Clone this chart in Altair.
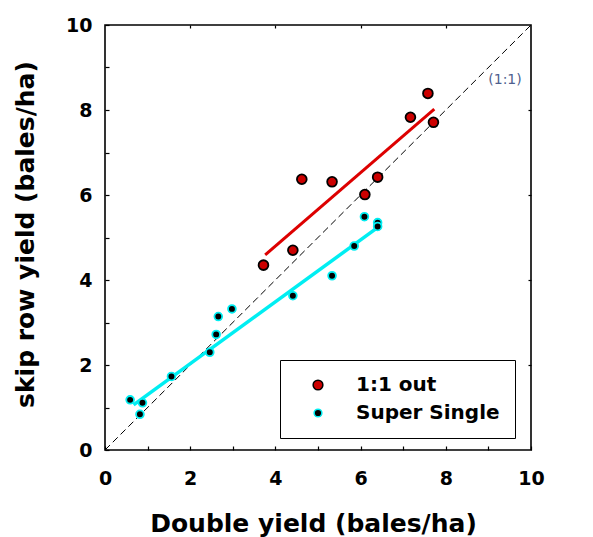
import altair as alt
import pandas as pd

# Data
red_x = [3.72, 4.41, 4.62, 5.33, 6.10, 6.40, 7.17, 7.58, 7.71]
red_y = [4.35, 4.70, 6.37, 6.31, 6.01, 6.42, 7.83, 8.39, 7.71]
cyan_x = [0.59, 0.82, 0.88, 1.56, 2.46, 2.61, 2.66, 2.98, 4.41, 5.33, 5.85, 6.09, 6.40, 6.40]
cyan_y = [1.18, 0.84, 1.11, 1.73, 2.30, 2.72, 3.14, 3.32, 3.63, 4.10, 4.80, 5.49, 5.35, 5.26]
red_fit_x = [3.76, 7.73]
red_fit_y = [4.59, 8.02]
cyan_fit_x = [0.67, 6.42]
cyan_fit_y = [1.06, 5.25]
diag_x = [0, 10]
diag_y = [0, 10]
series_names = ["1:1 out", "Super Single"]
note_text = ["(1:1)"]
note_x = [9.39]
note_y = [8.71]
all_ticks = list(range(0, 11))
major_inner_ticks = [2, 4, 6, 8]

FONT = "DejaVu Sans"

pts = pd.concat([
    pd.DataFrame({"x": red_x, "y": red_y, "series": series_names[0]}),
    pd.DataFrame({"x": cyan_x, "y": cyan_y, "series": series_names[1]}),
])
red_fit = pd.DataFrame({"x": red_fit_x, "y": red_fit_y})
cyan_fit = pd.DataFrame({"x": cyan_fit_x, "y": cyan_fit_y})
diag = pd.DataFrame({"x": diag_x, "y": diag_y})
note = pd.DataFrame({"x": note_x, "y": note_y, "t": note_text})

xs = alt.Scale(domain=[0, 10], nice=False, zero=False)
ys = alt.Scale(domain=[0, 10], nice=False, zero=False)

even_label = "datum.value % 2 == 0 ? datum.label : ''"

x_main = alt.Axis(
    orient="bottom", values=all_ticks, tickSize=4, offset=-4, domain=False,
    labelExpr=even_label, labelFont=FONT, labelFontSize=19, labelFontWeight="bold",
    labelColor="black", labelBaseline="alphabetic", labelPadding=34, labelFlush=False,
    tickColor="black", tickWidth=1.2, grid=False,
    title="Double yield (bales/ha)", titleFont=FONT, titleFontSize=25,
    titleFontWeight="bold", titleColor="black", titleBaseline="alphabetic",
    titleX=208, titleY=85,
)
y_main = alt.Axis(
    orient="left", values=all_ticks, tickSize=4, offset=-4, domain=False,
    labelExpr=even_label, labelFont=FONT, labelFontSize=19, labelFontWeight="bold",
    labelColor="black", labelPadding=13, labelFlush=False,
    tickColor="black", tickWidth=1.2, grid=False,
    title="skip row yield (bales/ha)", titleFont=FONT, titleFontSize=25,
    titleFontWeight="bold", titleColor="black", titleBaseline="alphabetic",
    titleX=-76, titleY=209,
)
x_top = alt.Axis(orient="top", values=major_inner_ticks, tickSize=3, offset=-3,
                 domain=False, labels=False, title=None, grid=False,
                 tickColor="black", tickWidth=1.2)
y_right = alt.Axis(orient="right", values=major_inner_ticks, tickSize=3, offset=-3,
                   domain=False, labels=False, title=None, grid=False,
                   tickColor="black", tickWidth=1.2)

diag_layer = alt.Chart(diag).mark_line(
    color="black", strokeWidth=1, strokeDash=[7, 4]
).encode(
    x=alt.X("x:Q", scale=xs, axis=x_main),
    y=alt.Y("y:Q", scale=ys, axis=y_main),
)

frame_layer = alt.Chart(diag).mark_line(opacity=0).encode(
    x=alt.X("x:Q", scale=xs, axis=x_top),
    y=alt.Y("y:Q", scale=ys, axis=y_right),
)

red_line = alt.Chart(red_fit).mark_line(color="#dd0000", strokeWidth=3).encode(
    x=alt.X("x:Q", scale=xs, axis=None),
    y=alt.Y("y:Q", scale=ys, axis=None),
)
cyan_line = alt.Chart(cyan_fit).mark_line(color="#00eef2", strokeWidth=3.5).encode(
    x=alt.X("x:Q", scale=xs, axis=None),
    y=alt.Y("y:Q", scale=ys, axis=None),
)

legend = alt.Legend(
    title=None, orient="none", legendX=175, legendY=335,
    strokeColor="black", fillColor="white", padding=15,
    symbolOffset=13, labelOffset=28, rowPadding=8,
    labelFont=FONT, labelFontSize=20, labelFontWeight="bold", labelColor="black",
    symbolStrokeWidth=1.5, labelLimit=300,
)

points = alt.Chart(pts).mark_point(filled=True, shape="circle", strokeWidth=1.8, opacity=1).encode(
    x=alt.X("x:Q", scale=xs, axis=None),
    y=alt.Y("y:Q", scale=ys, axis=None),
    fill=alt.Fill("series:N", scale=alt.Scale(domain=series_names, range=["#cc0000", "black"]), legend=legend),
    stroke=alt.Stroke("series:N", scale=alt.Scale(domain=series_names, range=["black", "#00eef2"]), legend=legend),
    size=alt.Size("series:N", scale=alt.Scale(domain=series_names, range=[95, 60]), legend=legend),
)

note_layer = alt.Chart(note).mark_text(
    font=FONT, fontSize=14, color="#4f5f8f", align="center", baseline="middle"
).encode(
    x=alt.X("x:Q", scale=xs, axis=None),
    y=alt.Y("y:Q", scale=ys, axis=None),
    text="t:N",
)

chart = alt.layer(
    diag_layer, frame_layer, red_line, cyan_line, points, note_layer
).resolve_axis(
    x="independent", y="independent"
).properties(
    width=426, height=425,
    autosize=alt.AutoSizeParams(type="none"),
    padding={"left": 97, "top": 17, "right": 50, "bottom": 88},
    background="white",
).configure_view(
    stroke="black", strokeWidth=1.6
)

chart.save("out.html", embed_options={"renderer": "svg", "actions": False})
